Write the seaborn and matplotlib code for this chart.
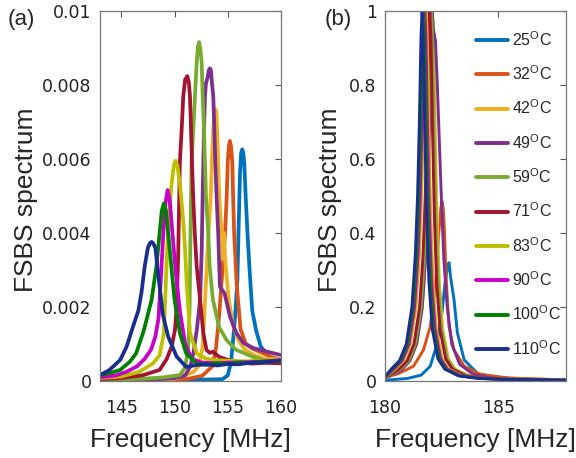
import numpy as np
import pandas as pd
import seaborn as sns
import matplotlib
matplotlib.use("Agg")
import matplotlib.pyplot as plt
from matplotlib.lines import Line2D

# temperatures (legend order) and MATLAB-like line colours
temps = ["25", "32", "42", "49", "59", "71", "83", "90", "100", "110"]
colors = ["#0072BD", "#D95319", "#EDB120", "#7E2F8E", "#77AC30",
          "#A2142F", "#BFBF00", "#C800C8", "#008000", "#1A2E8F"]

# ---- panel (a): measured spectra, values in units of 1e-4 ----
fa_25 = [143.0, 150.0, 154.5, 155.0, 155.3, 155.5, 155.7, 155.9, 156.05, 156.15, 156.25, 156.36, 156.46,
         156.55, 156.68, 156.85, 157.05, 157.3, 157.65, 158.1, 158.9, 159.5, 160.0]
sa_25 = [0.1, 0.2, 0.5, 1.5, 5.0, 11.0, 18.0, 27.0, 45.0, 56.0, 61.5, 62.6, 61.5,
         59.0, 50.0, 40.0, 30.0, 19.0, 13.8, 9.3, 6.6, 5.6, 5.2]
fa_32 = [143.0, 148.0, 151.1, 152.6, 153.6, 153.9, 154.2, 154.5, 154.75, 154.9, 155.0, 155.1, 155.2,
         155.3, 155.43, 155.5, 155.6, 155.84, 156.2, 156.7, 157.3, 158.3, 159.2, 160.0]
sa_32 = [0.1, 0.3, 0.5, 1.4, 4.1, 9.0, 18.0, 30.0, 40.0, 50.0, 59.0, 63.5, 64.9,
         63.5, 59.0, 50.0, 40.0, 26.0, 14.0, 10.0, 8.8, 7.5, 6.4, 5.7]
fa_42 = [143.0, 148.0, 150.0, 151.7, 152.3, 152.64, 152.8, 152.96, 153.15, 153.4, 153.5, 153.64, 153.75,
         153.86, 153.95, 154.0, 154.1, 154.2, 154.3, 154.45, 154.55, 154.65, 154.75, 154.9, 155.1,
         155.5, 156.0, 156.6, 157.5, 158.5, 160.0]
sa_42 = [0.2, 0.3, 0.6, 2.3, 4.1, 9.3, 18.0, 27.0, 38.0, 50.0, 59.0, 68.0, 72.0,
         73.4, 72.0, 68.0, 59.0, 50.0, 45.0, 40.0, 33.0, 40.0, 33.0, 28.0, 22.0,
         15.0, 11.0, 8.5, 7.0, 6.0, 5.8]
fa_49 = [143.0, 148.0, 150.0, 151.0, 151.5, 151.8, 152.1, 152.4, 152.55, 152.64, 152.77, 152.86, 152.95,
         153.1, 153.22, 153.33, 153.42, 153.5, 153.64, 153.74, 153.83, 153.95, 154.1, 154.2, 154.27,
         154.5, 154.7, 155.2, 155.8, 156.46, 157.4, 158.6, 160.0]
sa_49 = [0.2, 0.4, 0.8, 1.5, 4.0, 8.0, 14.0, 22.0, 35.0, 50.0, 68.0, 77.0, 80.4,
         82.0, 84.0, 84.5, 84.0, 81.0, 77.0, 68.0, 59.0, 50.0, 40.0, 31.0, 25.5,
         24.5, 23.7, 17.5, 13.0, 10.3, 8.9, 8.0, 7.0]
fa_59 = [143.0, 147.0, 149.0, 150.5, 151.0, 151.3, 151.42, 151.5, 151.6, 151.76, 151.92, 152.08, 152.2,
         152.3, 152.42, 152.55, 152.64, 152.77, 152.86, 152.95, 153.17, 153.3, 153.6, 154.2, 154.9,
         155.8, 157.3, 158.9, 160.0]
sa_59 = [0.3, 0.6, 1.0, 1.6, 3.7, 9.3, 20.0, 40.0, 59.0, 68.0, 77.0, 86.0, 90.5,
         91.6, 90.0, 86.0, 77.0, 68.0, 59.0, 50.0, 40.0, 31.0, 22.0, 14.5, 11.0,
         8.4, 6.6, 5.2, 4.8]
fa_71 = [143.0, 145.0, 147.07, 148.6, 149.26, 149.73, 150.04, 150.2, 150.35, 150.5, 150.67, 150.82, 151.0,
         151.2, 151.35, 151.45, 151.55, 151.64, 151.75, 151.9, 152.08, 152.4, 152.7, 153.0, 153.3,
         153.6, 154.2, 155.15, 156.2, 157.3, 158.5, 160.0]
sa_71 = [0.5, 0.8, 1.6, 3.0, 5.9, 9.3, 13.8, 20.0, 35.0, 59.0, 68.0, 77.0, 81.5,
         82.4, 80.5, 77.0, 68.0, 59.0, 50.0, 40.0, 31.0, 22.0, 13.0, 8.4, 7.6,
         7.9, 6.5, 5.6, 5.0, 4.7, 4.9, 4.8]
fa_83 = [143.0, 145.0, 146.7, 148.0, 148.6, 149.0, 149.15, 149.3, 149.45, 149.73, 149.95, 150.1, 150.25,
         150.5, 150.8, 151.0, 151.15, 151.45, 152.1, 153.0, 154.0, 155.0, 156.5, 158.0, 160.0]
sa_83 = [0.8, 1.2, 2.5, 4.8, 7.0, 13.0, 24.0, 35.0, 44.0, 53.4, 58.5, 59.5, 58.5,
         53.4, 44.0, 35.0, 26.0, 13.0, 7.4, 6.0, 5.6, 5.5, 5.3, 5.5, 5.6]
fa_90 = [143.0, 144.5, 145.5, 146.5, 147.2, 147.8, 148.2, 148.5, 148.7, 148.95, 149.15, 149.35, 149.55,
         149.8, 150.1, 150.5, 151.0, 151.6, 152.5, 154.0, 155.5, 157.0, 158.5, 160.0]
sa_90 = [1.0, 1.5, 2.5, 4.0, 6.0, 8.5, 12.0, 17.0, 27.0, 40.0, 48.0, 51.6, 49.0,
         40.0, 30.0, 19.0, 10.0, 6.0, 5.0, 4.8, 5.0, 5.1, 5.3, 5.6]
fa_100 = [143.0, 144.0, 144.9, 145.8, 146.4, 147.1, 147.85, 148.3, 148.6, 148.8, 149.0, 149.2, 149.4,
          149.7, 150.0, 150.5, 151.1, 152.1, 153.0, 154.0, 155.0, 156.0, 157.0, 158.0, 159.0, 160.0]
sa_100 = [1.6, 2.2, 3.0, 5.2, 7.5, 13.5, 22.0, 31.0, 40.0, 46.0, 48.0, 46.0, 40.0,
          31.0, 22.0, 13.0, 7.4, 4.7, 4.4, 4.8, 4.6, 5.0, 4.9, 5.2, 5.3, 5.5]
fa_110 = [143.0, 143.9, 144.9, 145.5, 146.1, 146.6, 146.9, 147.2, 147.5, 147.7, 147.85, 148.0, 148.2,
          148.5, 148.9, 149.4, 150.2, 151.1, 152.0, 153.0, 154.0, 155.0, 156.0, 157.0, 158.0,
          159.0, 160.0]
sa_110 = [1.6, 3.0, 5.7, 9.3, 14.7, 19.0, 24.0, 31.0, 36.0, 37.3, 37.6, 37.2, 36.0,
          28.0, 18.0, 12.0, 6.6, 3.8, 4.3, 4.5, 4.2, 4.6, 4.5, 4.9, 5.0, 5.3, 5.6]

# ---- panel (b): normalised spectra ----
fb_25 = [180.0, 181.0, 181.6, 182.0, 182.3, 182.53, 182.68, 182.78, 182.83, 182.9, 183.05, 183.2,
         183.5, 184.1, 185.0, 186.5, 188.0]
sb_25 = [0.002, 0.007, 0.016, 0.04, 0.10, 0.19, 0.28, 0.31, 0.32, 0.28, 0.22, 0.13,
         0.057, 0.02, 0.009, 0.005, 0.003]
fb_32 = [180.0, 180.6, 181.26, 181.7, 182.0, 182.23, 182.38, 182.47, 182.53, 182.58, 182.63, 182.72,
         182.83, 183.05, 183.5, 184.2, 185.5, 188.0]
sb_32 = [0.01, 0.02, 0.04, 0.084, 0.147, 0.26, 0.40, 0.47, 0.485, 0.46, 0.40, 0.26,
         0.147, 0.084, 0.04, 0.018, 0.008, 0.003]
fb_42 = [180.0, 180.7, 181.1, 181.4, 181.65, 181.8, 181.9, 181.98, 182.05, 182.1, 182.15, 182.22,
         182.3, 182.4, 182.55, 182.8, 183.1, 183.7, 184.6, 185.8, 188.0]
sb_42 = [0.007, 0.03, 0.055, 0.10, 0.20, 0.34, 0.50, 0.70, 0.93, 1.0, 0.93, 0.68,
         0.45, 0.27, 0.14, 0.06, 0.032, 0.014, 0.007, 0.004, 0.002]
fb_49 = [180.0, 180.7, 181.1, 181.4, 181.65, 181.8, 181.9, 181.98, 182.04, 182.08, 182.14, 182.23,
         182.3, 182.4, 182.5, 182.6, 182.75, 182.95, 183.3, 183.9, 184.7, 185.8, 188.0]
sb_49 = [0.007, 0.028, 0.055, 0.10, 0.20, 0.34, 0.50, 0.72, 0.94, 1.0, 0.95, 0.92,
         0.82, 0.65, 0.48, 0.33, 0.20, 0.10, 0.045, 0.018, 0.008, 0.004, 0.002]
fb_59 = [180.0, 180.65, 181.05, 181.35, 181.6, 181.75, 181.85, 181.93, 182.0, 182.05, 182.1, 182.17,
         182.25, 182.35, 182.5, 182.75, 183.05, 183.65, 184.5, 185.8, 188.0]
sb_59 = [0.007, 0.03, 0.055, 0.10, 0.20, 0.34, 0.50, 0.70, 0.93, 1.0, 0.93, 0.68,
         0.45, 0.27, 0.14, 0.06, 0.032, 0.014, 0.007, 0.004, 0.002]
fb_71 = [180.0, 180.58, 180.98, 181.28, 181.53, 181.68, 181.78, 181.86, 181.93, 181.98, 182.03, 182.1,
         182.18, 182.28, 182.43, 182.68, 182.98, 183.58, 184.5, 185.8, 188.0]
sb_71 = [0.008, 0.03, 0.055, 0.10, 0.20, 0.34, 0.50, 0.70, 0.93, 1.0, 0.93, 0.68,
         0.45, 0.27, 0.14, 0.06, 0.032, 0.014, 0.007, 0.004, 0.002]
fb_83 = [180.0, 180.42, 180.82, 181.12, 181.37, 181.52, 181.62, 181.70, 181.77, 181.82, 181.87, 181.94,
         182.02, 182.12, 182.27, 182.52, 182.82, 183.42, 184.3, 185.5, 188.0]
sb_83 = [0.009, 0.03, 0.055, 0.10, 0.20, 0.34, 0.50, 0.70, 0.93, 1.0, 0.93, 0.68,
         0.45, 0.27, 0.14, 0.06, 0.032, 0.014, 0.007, 0.004, 0.002]
fb_90 = [180.0, 180.36, 180.76, 181.06, 181.31, 181.46, 181.56, 181.64, 181.71, 181.76, 181.81, 181.88,
         181.96, 182.06, 182.21, 182.46, 182.76, 183.36, 184.3, 185.5, 188.0]
sb_90 = [0.010, 0.03, 0.055, 0.10, 0.20, 0.34, 0.50, 0.70, 0.93, 1.0, 0.93, 0.68,
         0.45, 0.27, 0.14, 0.06, 0.032, 0.014, 0.007, 0.004, 0.002]
fb_100 = [180.0, 180.3, 180.7, 181.0, 181.25, 181.4, 181.5, 181.58, 181.65, 181.70, 181.75, 181.82,
          181.9, 182.0, 182.15, 182.4, 182.7, 183.3, 184.2, 185.5, 188.0]
sb_100 = [0.011, 0.03, 0.055, 0.10, 0.20, 0.34, 0.50, 0.70, 0.93, 1.0, 0.93, 0.68,
          0.45, 0.27, 0.14, 0.06, 0.032, 0.014, 0.007, 0.004, 0.002]
fb_110 = [180.0, 180.24, 180.64, 180.94, 181.19, 181.34, 181.44, 181.52, 181.59, 181.64, 181.69, 181.76,
          181.84, 181.94, 182.09, 182.34, 182.64, 183.24, 184.1, 185.5, 188.0]
sb_110 = [0.012, 0.03, 0.055, 0.10, 0.20, 0.34, 0.50, 0.70, 0.93, 1.0, 0.93, 0.68,
          0.45, 0.27, 0.14, 0.06, 0.032, 0.014, 0.007, 0.004, 0.002]

freqs_a = [fa_25, fa_32, fa_42, fa_49, fa_59, fa_71, fa_83, fa_90, fa_100, fa_110]
specs_a = [sa_25, sa_32, sa_42, sa_49, sa_59, sa_71, sa_83, sa_90, sa_100, sa_110]
freqs_b = [fb_25, fb_32, fb_42, fb_49, fb_59, fb_71, fb_83, fb_90, fb_100, fb_110]
specs_b = [sb_25, sb_32, sb_42, sb_49, sb_59, sb_71, sb_83, sb_90, sb_100, sb_110]


def to_long(freqs, specs, scale=1.0):
    rows = []
    for t, f, s in zip(temps, freqs, specs):
        for x, y in zip(f, s):
            rows.append({"temp": t, "freq": x, "spec": y * scale})
    return pd.DataFrame(rows)


df_a = to_long(freqs_a, specs_a, 1e-4)
df_b = to_long(freqs_b, specs_b)

sns.set_theme(style="white")
plt.rcParams["font.family"] = ["Liberation Sans", "DejaVu Sans"]
plt.rcParams["mathtext.fontset"] = "custom"
plt.rcParams["mathtext.rm"] = "Liberation Sans"

fig = plt.figure(figsize=(5.76, 4.58), dpi=100)
ax_a = fig.add_axes([100 / 576, 77 / 458, 181 / 576, 370 / 458])
ax_b = fig.add_axes([385 / 576, 77 / 458, 181 / 576, 370 / 458])
palette = dict(zip(temps, colors))

sns.lineplot(data=df_a, x="freq", y="spec", hue="temp", hue_order=temps, palette=palette,
             estimator=None, sort=False, lw=2.7, legend=False, ax=ax_a)
sns.lineplot(data=df_b, x="freq", y="spec", hue="temp", hue_order=temps, palette=palette,
             estimator=None, sort=False, lw=2.1, legend=False, ax=ax_b)

ax_a.set_xlim(143, 160)
ax_a.set_ylim(0, 0.01)
ax_a.set_xticks([145, 150, 155, 160])
ax_a.set_yticks([0, 0.002, 0.004, 0.006, 0.008, 0.01])
ax_a.set_yticklabels(["0", "0.002", "0.004", "0.006", "0.008", "0.01"])

ax_b.set_xlim(180, 188)
ax_b.set_ylim(0, 1)
ax_b.set_xticks([180, 185])
ax_b.set_yticks([0, 0.2, 0.4, 0.6, 0.8, 1.0])
ax_b.set_yticklabels(["0", "0.2", "0.4", "0.6", "0.8", "1"])

for ax in [ax_a, ax_b]:
    ax.set_xlabel("Frequency [MHz]", fontsize=19)
    ax.set_ylabel("FSBS spectrum", fontsize=19)
    ax.tick_params(direction="in", length=4, width=0.8, color="#555555",
                   top=True, right=True, labelsize=12.5, labelcolor="#222222")
    ax.tick_params(axis="x", pad=13)
    ax.tick_params(axis="y", pad=6)
    for lab in ax.get_xticklabels() + ax.get_yticklabels():
        lab.set_fontfamily("DejaVu Sans")
    for sp in ax.spines.values():
        sp.set_color("#777777")
        sp.set_linewidth(0.9)
    ax.xaxis.set_label_coords(0.5, -0.128)

ax_a.yaxis.set_label_coords(-0.34, 0.49)
ax_b.yaxis.set_label_coords(-0.24, 0.49)

fig.text(21 / 576, 1 - 19 / 458, "(a)", fontsize=16, ha="center", va="center")
fig.text(338 / 576, 1 - 19 / 458, "(b)", fontsize=16, ha="center", va="center")

handles = [Line2D([], [], color=c, lw=2.8) for c in colors]
labels = [t + r"$^{\rm O}$C" for t in temps]
leg = ax_b.legend(handles, labels, loc="upper left", bbox_to_anchor=(0.475, 0.962),
                  frameon=False, fontsize=11.5, handlelength=2.0, handletextpad=0.25,
                  labelspacing=0.98, borderaxespad=0.0, borderpad=0.3)

fig.savefig("out.png", dpi=100)
